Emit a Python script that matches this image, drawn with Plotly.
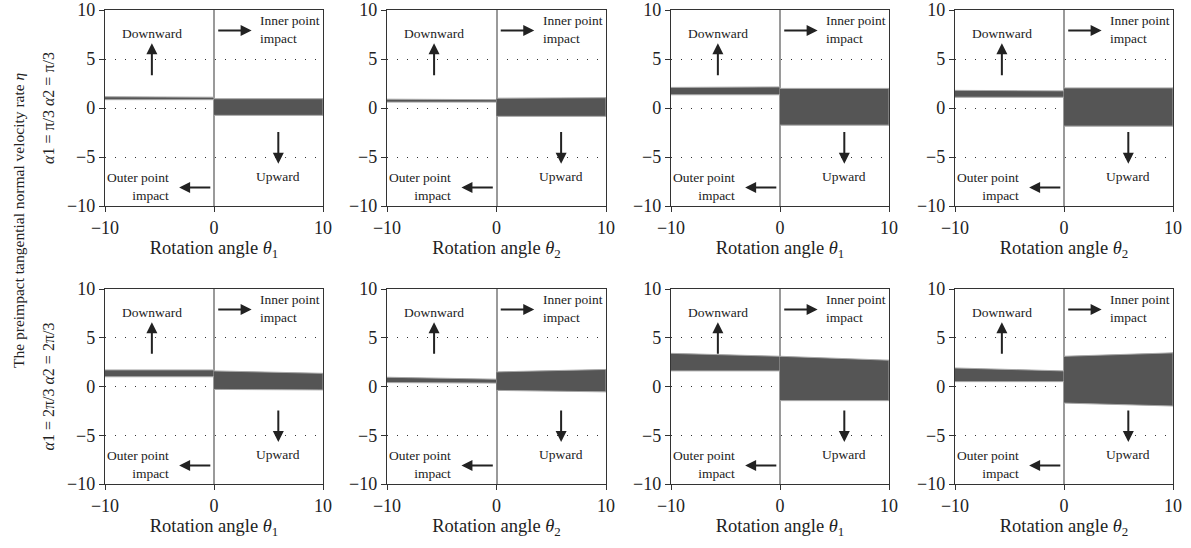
import plotly.graph_objects as go

# ---------------- data ----------------
x_left = [-10, 0]
x_right = [0, 10]

# band edges for each panel (row-major order: row1 col1..4, row2 col1..4), values at [x_start, x_end]
left_upper = [[1.15, 1.1], [0.9, 0.85], [2.1, 2.15], [1.8, 1.75],
              [1.7, 1.7], [0.95, 0.75], [3.4, 3.1], [1.9, 1.6]]
left_lower = [[0.85, 0.85], [0.6, 0.6], [1.35, 1.35], [1.1, 1.1],
              [1.0, 1.0], [0.4, 0.35], [1.6, 1.6], [0.5, 0.5]]
right_upper = [[0.95, 0.95], [1.0, 1.05], [2.0, 2.0], [2.05, 2.05],
               [1.6, 1.35], [1.5, 1.75], [3.1, 2.7], [3.1, 3.45]]
right_lower = [[-0.75, -0.75], [-0.85, -0.85], [-1.75, -1.75], [-1.85, -1.85],
               [-0.3, -0.35], [-0.4, -0.55], [-1.45, -1.45], [-1.7, -2.0]]

x_ticks = [-10, 0, 10]
y_ticks = [-10, -5, 0, 5, 10]
x_titles = ["Rotation angle <i>θ</i><sub>1</sub>", "Rotation angle <i>θ</i><sub>2</sub>",
            "Rotation angle <i>θ</i><sub>1</sub>", "Rotation angle <i>θ</i><sub>2</sub>"]
row_labels = ["<i>α</i>1 = π/3 <i>α</i>2 = π/3", "<i>α</i>1 = 2π/3 <i>α</i>2 = 2π/3"]
y_title = "The preimpact tangential normal velocity rate <i>η</i>"
label_down = "Downward"
label_inner = "Inner point<br>impact"
label_up = "Upward"
label_outer = "Outer point<br>impact"

# ---------------- layout helpers ----------------
W, H = 1191, 548
FONT = "Liberation Serif, Times New Roman, serif"
x_domains = [[105 / W, 323 / W], [387 / W, 606 / W], [671 / W, 889 / W], [955 / W, 1173 / W]]
y_domains = [[1 - 206 / H, 1 - 10 / H], [1 - 484 / H, 1 - 289 / H]]

fig = go.Figure()
layout = dict(
    width=W, height=H,
    margin=dict(l=0, r=0, t=0, b=0),
    paper_bgcolor="white", plot_bgcolor="white",
    showlegend=False,
    font=dict(family=FONT, color="#222", size=18),
)
annotations = []

band_fill = "#555555"
band_edge = "#a8a8a8"
dark = "#222222"

for i in range(8):
    r, c = divmod(i, 4)
    n = i + 1
    xa = "x" if n == 1 else f"x{n}"
    ya = "y" if n == 1 else f"y{n}"
    # left band
    fig.add_trace(go.Scatter(
        x=x_left + x_left[::-1],
        y=left_upper[i] + left_lower[i][::-1],
        fill="toself", fillcolor=band_fill, mode="lines",
        line=dict(color=band_edge, width=1), xaxis=xa, yaxis=ya, hoverinfo="skip"))
    # right band
    fig.add_trace(go.Scatter(
        x=x_right + x_right[::-1],
        y=right_upper[i] + right_lower[i][::-1],
        fill="toself", fillcolor=band_fill, mode="lines",
        line=dict(color=band_edge, width=1), xaxis=xa, yaxis=ya, hoverinfo="skip"))

    xkey = "xaxis" if n == 1 else f"xaxis{n}"
    ykey = "yaxis" if n == 1 else f"yaxis{n}"
    layout[xkey] = dict(
        domain=x_domains[c], anchor=ya, range=[-10, 10],
        tickvals=x_ticks, ticktext=[("−" + str(-v)) if v < 0 else str(v) for v in x_ticks],
        ticks="outside", ticklen=5, tickwidth=1.2, tickcolor="#333",
        showline=True, mirror=True, linecolor="#333", linewidth=1.3,
        showgrid=False, zeroline=True, zerolinecolor="#9a9a9a", zerolinewidth=1.5,
        tickfont=dict(family=FONT, size=18, color="#222"),
        title=dict(text=x_titles[c], font=dict(family=FONT, size=18.5, color="#222"), standoff=4),
        automargin=False, fixedrange=True,
    )
    layout[ykey] = dict(
        domain=y_domains[r], anchor=xa, range=[-10, 10],
        tickvals=y_ticks, ticktext=[("−" + str(-v)) if v < 0 else str(v) for v in y_ticks],
        ticks="outside", ticklen=5, tickwidth=1.2, tickcolor="#333",
        showline=True, mirror=True, linecolor="#333", linewidth=1.3,
        showgrid=True, gridcolor="#333", gridwidth=1, griddash="1px,9px",
        zeroline=False,
        tickfont=dict(family=FONT, size=18, color="#222"),
        automargin=False, fixedrange=True,
    )

    # arrows (head at x,y ; tail at ax,ay)
    arrows = [((-5.7, 6.6), (-5.7, 3.2)),
              ((3.45, 7.9), (0.25, 7.9)),
              ((5.9, -5.7), (5.9, -2.3)),
              ((-3.2, -8.1), (-0.2, -8.1))]
    for (hx, hy), (tx, ty) in arrows:
        annotations.append(dict(
            x=hx, y=hy, ax=tx, ay=ty, xref=xa, yref=ya, axref=xa, ayref=ya,
            text="", showarrow=True, arrowhead=2, arrowsize=1.1, arrowwidth=2,
            arrowcolor=dark))
    txt_font = dict(family=FONT, size=13.5, color="#222")
    annotations.append(dict(x=-5.7, y=7.6, xref=xa, yref=ya, text=label_down,
                            showarrow=False, font=txt_font, xanchor="center", yanchor="middle"))
    annotations.append(dict(x=4.05, y=8.05, xref=xa, yref=ya, text=label_inner,
                            showarrow=False, font=txt_font, xanchor="left", yanchor="middle",
                            align="left"))
    annotations.append(dict(x=5.9, y=-6.95, xref=xa, yref=ya, text=label_up,
                            showarrow=False, font=txt_font, xanchor="center", yanchor="middle"))
    annotations.append(dict(x=-3.95, y=-8.0, xref=xa, yref=ya, text=label_outer,
                            showarrow=False, font=txt_font, xanchor="right", yanchor="middle",
                            align="right"))

# left-side titles
annotations.append(dict(x=18 / W, y=1 - 220 / H, xref="paper", yref="paper", text=y_title,
                        textangle=-90, showarrow=False, xanchor="center", yanchor="middle",
                        font=dict(family=FONT, size=15.5, color="#222")))
for r in range(2):
    yc = (y_domains[r][0] + y_domains[r][1]) / 2
    annotations.append(dict(x=48 / W, y=yc, xref="paper", yref="paper", text=row_labels[r],
                            textangle=-90, showarrow=False, xanchor="center", yanchor="middle",
                            font=dict(family=FONT, size=16, color="#222")))

layout["annotations"] = annotations
fig.update_layout(**layout)
fig.write_html("out.html", config={"displayModeBar": False},
               post_script="document.body.style.margin='0';document.body.style.overflow='hidden';")
